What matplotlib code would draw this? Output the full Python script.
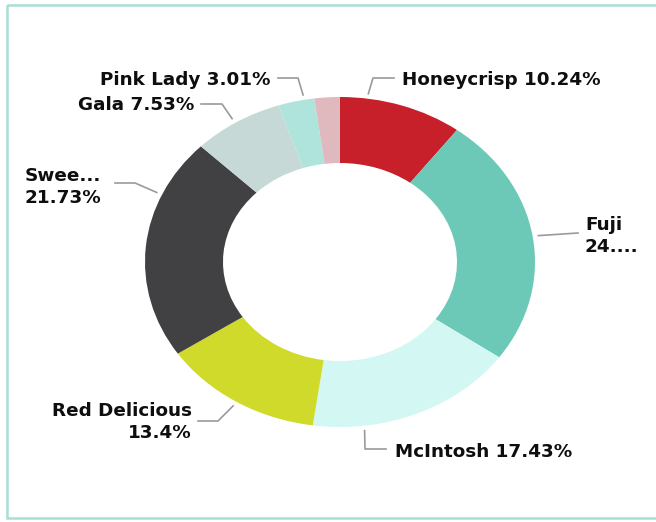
import numpy as np
import matplotlib
matplotlib.use("Agg")
import matplotlib.pyplot as plt
import matplotlib.transforms as mtransforms
from matplotlib.patches import Rectangle

# ---- data ----
names = ["Honeycrisp", "Fuji", "McIntosh", "Red Delicious", "Swee...", "Gala", "Pink Lady", ""]
values = [10.24, 24.56, 17.43, 13.4, 21.73, 7.53, 3.01, 2.10]
label_texts = ["Honeycrisp 10.24%", "Fuji\n24....", "McIntosh 17.43%", "Red Delicious\n13.4%",
               "Swee...\n21.73%", "Gala 7.53%", "Pink Lady 3.01%", ""]
colors = ["#C8202A", "#6CC9B8", "#D3F7F3", "#D0DA2B", "#414143", "#C7D9D7", "#AEE4DC", "#DFB9BD"]

W, H = 656, 522
CX, CY, RX, RY = 340, 262, 195, 165

fig = plt.figure(figsize=(W / 100, H / 100), dpi=100)
ax = fig.add_axes([0, 0, 1, 1])
ax.pie(values, colors=colors, startangle=90, counterclock=False,
       wedgeprops=dict(width=0.4, edgecolor="none"), radius=1)
ax.set_aspect("auto")
ax.set_xlim(-CX / RX, (W - CX) / RX)
ax.set_ylim((CY - H) / RY, CY / RY)
ax.axis("off")

# pixel transform (origin top-left)
pix = mtransforms.Affine2D().scale(1 / W, -1 / H).translate(0, 1) + fig.transFigure

def to_pix(xn, yn):
    return CX + xn * RX, CY - yn * RY

# layout: anchor fraction within slice, elbow point, line end, text pos, alignment
layout = {
    0: dict(frac=0.22, elbow=(373, 78), end=(394, 78), text=(402, 80), ha="left"),
    1: dict(frac=0.50, elbow=None, end=(578, 233), text=(585, 236), ha="left"),
    2: dict(frac=0.76, elbow=(365, 449), end=(386, 449), text=(395, 452), ha="left"),
    3: dict(frac=0.50, elbow=(218, 421), end=(198, 421), text=(192, 422), ha="right"),
    4: dict(frac=0.74, elbow=(135, 183), end=(115, 183), text=(25, 187), ha="left"),
    5: dict(frac=0.48, elbow=(222, 104), end=(201, 104), text=(194, 105), ha="right"),
    6: dict(frac=0.72, elbow=(298, 78), end=(278, 78), text=(271, 80), ha="right"),
}

total = sum(values)
cum = np.concatenate([[0], np.cumsum(values)])
for i, lay in layout.items():
    pct = cum[i] + lay["frac"] * values[i]
    ang = np.deg2rad(pct / total * 360)
    ax_x, ax_y = to_pix(1.03 * np.sin(ang), 1.03 * np.cos(ang))
    pts = [(ax_x, ax_y)]
    if lay["elbow"] is not None:
        pts.append(lay["elbow"])
    pts.append(lay["end"])
    xs, ys = zip(*pts)
    ax.plot(xs, ys, color="#9A9A9A", lw=1.2, transform=pix, clip_on=False)
    fig.text(lay["text"][0], lay["text"][1], label_texts[i], transform=pix,
             ha=lay["ha"], va="center", multialignment=lay["ha"],
             fontsize=13.2, fontweight="bold", color="#0E0E0E",
             family="DejaVu Sans", linespacing=1.25)

# border
fig.patches.append(Rectangle((7, 5), W + 20, 513, transform=pix, fill=False,
                             edgecolor="#A6DFD4", lw=1.8))

fig.savefig("out.png", dpi=100)
